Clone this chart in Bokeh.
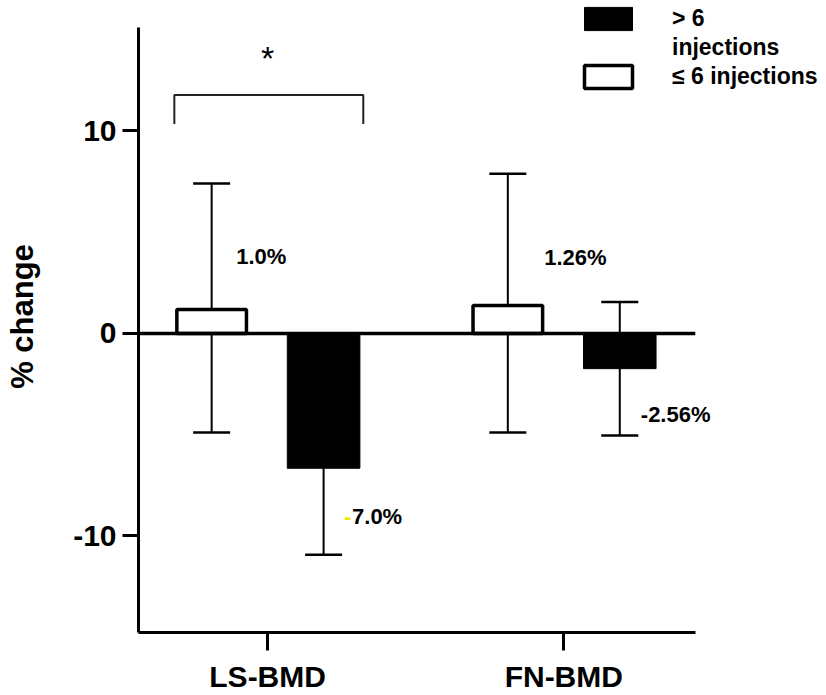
from bokeh.plotting import figure
from bokeh.models import (Range1d, FixedTicker, Whisker, TeeHead, ColumnDataSource,
                          Legend, LegendItem)
from bokeh.core.properties import value
from bokeh.embed import file_html
from bokeh.resources import INLINE

# ---------------- data ----------------
categories = ["LS-BMD", "FN-BMD"]
series_names = ["> 6", "injections", "\u2264 6 injections"]  # legend rows (first label wraps)
# > 6 injections (black bars)
more_vals = [-6.66, -1.74]
more_low = [-10.93, -5.04]
more_high = [-2.39, 1.55]
# <= 6 injections (white bars)
fewer_vals = [1.18, 1.38]
fewer_low = [-4.89, -4.89]
fewer_high = [7.40, 7.89]
fewer_text = ["1.0%", "1.26%"]
more_text = ["7.0%", "-2.56%"]
y_ticks = [-10, 0, 10]
sig_text = ["*"]

# ---------------- layout ----------------
FONT = value("Liberation Sans")
cat_x = [i + 1 for i in range(len(categories))]
off = 0.189
white_x = [c - off for c in cat_x]
black_x = [c + off for c in cat_x]
x_lo, x_hi = 0.564, 2.887
axis_x_end = 2.444
y_lo, y_hi = -14.77, 16.44
axis_y_top = 15.11

p = figure(width=826, height=695, x_range=Range1d(x_lo, x_hi), y_range=Range1d(y_lo, y_hi),
           output_backend="svg", toolbar_location=None,
           min_border_left=138, min_border_right=0, min_border_top=0, min_border_bottom=60)
p.outline_line_color = None
p.grid.visible = False

white = p.vbar(x=white_x, top=fewer_vals, bottom=0, width=0.235,
               fill_color="white", line_color="black", line_width=3.5)
black = p.vbar(x=black_x, top=0, bottom=more_vals, width=0.245,
               fill_color="black", line_color="black", line_width=1)
blank = p.vbar(x=[], top=[], width=0.2, fill_alpha=0, line_alpha=0)

# zero line
p.segment(x0=[x_lo], y0=[0], x1=[axis_x_end], y1=[0], line_color="black", line_width=3.5)

# error bars
for xs, lo, hi in ((white_x, fewer_low, fewer_high), (black_x, more_low, more_high)):
    src = ColumnDataSource(dict(x=xs, lower=lo, upper=hi))
    w = Whisker(source=src, base="x", lower="lower", upper="upper", dimension="height",
                line_color="black", line_width=2,
                upper_head=TeeHead(size=37, line_width=2.5, line_color="black"),
                lower_head=TeeHead(size=37, line_width=2.5, line_color="black"))
    p.add_layout(w)

# value labels
lab_fs = "22px"
p.text(x=[0.894, 1.934], y=[3.81, 3.73], text=fewer_text, text_align="left",
       text_baseline="middle", text_font=FONT, text_font_style="bold",
       text_font_size=lab_fs, text_color="black")
p.text(x=[1.285, 2.26], y=[-9.04, -3.98], text=more_text, text_align="left",
       text_baseline="middle", text_font=FONT, text_font_style="bold",
       text_font_size=lab_fs, text_color="black")
p.text(x=[1.258], y=[-9.04], text=["-"], text_align="left", text_baseline="middle",
       text_font=FONT, text_font_style="bold", text_font_size=lab_fs, text_color="#f2e600")

# significance bracket
bx0, bx1 = 0.685, 1.323
by_lo, by_hi = 10.34, 11.77
p.line(x=[bx0, bx0, bx1, bx1], y=[by_lo, by_hi, by_hi, by_lo], line_color="#222222", line_width=2)
p.text(x=[cat_x[0]], y=[13.6], text=sig_text, text_align="center", text_baseline="middle",
       text_font=FONT, text_font_size="34px", text_color="black")

# axes
for ax in (p.xaxis[0], p.yaxis[0]):
    ax.axis_line_width = 3
    ax.axis_line_color = "black"
    ax.major_tick_line_width = 3
    ax.major_tick_line_color = "black"
    ax.major_tick_in = 0
    ax.minor_tick_line_color = None
    ax.major_label_text_font = "Liberation Sans"
    ax.major_label_text_font_style = "bold"
    ax.major_label_text_font_size = "30px"
    ax.major_label_text_color = "black"

p.yaxis.ticker = FixedTicker(ticks=y_ticks)
p.yaxis.major_label_overrides = {t: str(t) for t in y_ticks}
p.yaxis.major_tick_out = 16
p.yaxis.major_label_standoff = 6
p.yaxis.bounds = (y_lo, axis_y_top)
p.yaxis.axis_label = "% change"
p.yaxis.axis_label_text_font = "Liberation Sans"
p.yaxis.axis_label_text_font_style = "bold"
p.yaxis.axis_label_text_font_size = "31px"
p.yaxis.axis_label_text_color = "black"
p.yaxis.axis_label_standoff = 30

p.xaxis.ticker = FixedTicker(ticks=cat_x)
p.xaxis.major_label_overrides = {c: n for c, n in zip(cat_x, categories)}
p.xaxis.major_tick_out = 18
p.xaxis.major_label_standoff = 9
p.xaxis.bounds = (x_lo, axis_x_end)

legend = Legend(items=[LegendItem(label=series_names[0], renderers=[black]),
                       LegendItem(label=series_names[1], renderers=[blank]),
                       LegendItem(label=series_names[2], renderers=[white])],
                location=(440, 541), glyph_width=60, glyph_height=29, label_standoff=34,
                label_text_font="Liberation Sans", label_text_font_style="bold",
                label_text_font_size="23px", label_text_color="black",
                padding=0, margin=0, spacing=0, border_line_color=None,
                background_fill_alpha=0)
p.add_layout(legend)

open("out.html", "w").write(file_html(p, INLINE))
